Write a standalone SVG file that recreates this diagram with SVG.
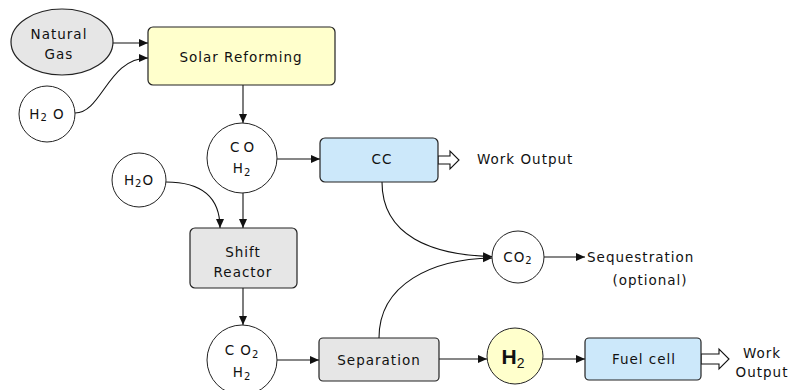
<svg xmlns="http://www.w3.org/2000/svg" width="794" height="390" viewBox="0 0 794 390">
<style>
.box{stroke:#222;stroke-width:1.2}
.circ{stroke:#222;stroke-width:1;fill:#fff}
.gray{fill:#e6e6e6}
.yel{fill:#ffffcc}
.blue{fill:#cce8fa}
.t{font-family:"DejaVu Sans",Verdana,sans-serif;font-size:13.5px;letter-spacing:1px;fill:#111;text-anchor:middle;dominant-baseline:central}
.l{text-anchor:start}
.sub{font-size:10px}
.c{fill:none;stroke:#111;stroke-width:1.1}
.h{fill:#fff;stroke:#111;stroke-width:1.1}
</style>
<defs>
<marker id="ah" markerUnits="userSpaceOnUse" markerWidth="10" markerHeight="9" refX="9" refY="4" orient="auto">
<path d="M0,0 L9,4 L0,8 z" fill="#111"/>
</marker>
</defs>
<rect width="794" height="390" fill="#fff"/>
<g id="connectors">
<path class="c" d="M113,43 L148,43" marker-end="url(#ah)"/>
<path class="c" d="M75,113 C102,113 108,58 148,58" marker-end="url(#ah)"/>
<path class="c" d="M243,85 L243,123" marker-end="url(#ah)"/>
<path class="c" d="M277,159 L320,159" marker-end="url(#ah)"/>
<path class="c" d="M166,182 C202,182 220,198 220,228" marker-end="url(#ah)"/>
<path class="c" d="M243,193 L243,228" marker-end="url(#ah)"/>
<path class="c" d="M243,288 L243,325" marker-end="url(#ah)"/>
<path class="c" d="M277,360 L319,360" marker-end="url(#ah)"/>
<path class="c" d="M439,359 L487,359" marker-end="url(#ah)"/>
<path class="c" d="M543,359 L585,359" marker-end="url(#ah)"/>
<path class="c" d="M382,182 C382,236 432,255 492,256.5" marker-end="url(#ah)"/>
<path class="c" d="M379,338 C379,284 432,259 492,258" marker-end="url(#ah)"/>
<path class="c" d="M544,257 L585,257" marker-end="url(#ah)"/>
<path class="h" d="M438,156 L450,156 L450,151 L459,160 L450,169 L450,164 L438,164 Z"/>
<path class="h" d="M701,354 L719,354 L719,349 L729,359 L719,369 L719,364 L701,364 Z"/>
</g>
<g id="natural-gas">
<ellipse cx="62" cy="42" rx="51" ry="33" class="box gray" stroke-width="1"/>
<text class="t" x="59" y="34">Natural</text>
<text class="t" x="59" y="54">Gas</text>
</g>
<g id="h2o-top">
<circle cx="47" cy="114" r="28" class="circ"/>
<text class="t" x="47" y="114">H<tspan class="sub" dy="3">2</tspan><tspan dy="-3"> O</tspan></text>
</g>
<g id="solar-reforming">
<rect x="148" y="27" width="187" height="58" rx="5" class="box yel"/>
<text class="t" x="241" y="57">Solar Reforming</text>
</g>
<g id="co-h2">
<circle cx="242" cy="158" r="35" class="circ"/>
<text class="t" x="244" y="147" style="letter-spacing:4px">CO</text>
<text class="t" x="242" y="168">H<tspan class="sub" dy="4">2</tspan></text>
</g>
<g id="h2o-mid">
<circle cx="139" cy="180" r="27" class="circ"/>
<text class="t" x="139" y="180">H<tspan class="sub" dy="3">2</tspan><tspan dy="-3">O</tspan></text>
</g>
<g id="cc">
<rect x="320" y="138" width="118" height="44" rx="5" class="box blue"/>
<text class="t" x="382" y="159">CC</text>
</g>
<g id="work-output-1">
<text class="t l" x="477" y="159">Work Output</text>
</g>
<g id="shift-reactor">
<rect x="190" y="228" width="107" height="60" rx="5" class="box gray"/>
<text class="t" x="243" y="252">Shift</text>
<text class="t" x="243" y="272">Reactor</text>
</g>
<g id="co2-h2">
<circle cx="242" cy="360" r="35" class="circ"/>
<text class="t" x="242" y="350">C O<tspan class="sub" dy="4">2</tspan></text>
<text class="t" x="242" y="372">H<tspan class="sub" dy="4">2</tspan></text>
</g>
<g id="separation">
<rect x="319" y="338" width="120" height="43" rx="4" class="box gray"/>
<text class="t" x="379" y="360">Separation</text>
</g>
<g id="co2">
<circle cx="518" cy="257" r="26" class="circ"/>
<text class="t" x="518" y="257">CO<tspan class="sub" dy="3">2</tspan></text>
</g>
<g id="sequestration">
<text class="t l" x="587" y="257">Sequestration</text>
<text class="t" x="650" y="280">(optional)</text>
</g>
<g id="h2">
<circle cx="515" cy="356" r="28" class="circ yel"/>
<text x="513" y="364" text-anchor="middle" font-family="Liberation Sans, Arial, sans-serif" font-size="21" font-weight="bold" fill="#111">H<tspan font-size="14" font-weight="normal" dy="4">2</tspan></text>
</g>
<g id="fuel-cell">
<rect x="585" y="338" width="116" height="42" rx="4" class="box blue"/>
<text class="t" x="644" y="359">Fuel cell</text>
</g>
<g id="work-output-2">
<text class="t" x="762" y="353">Work</text>
<text class="t" x="762" y="372">Output</text>
</g>
</svg>
